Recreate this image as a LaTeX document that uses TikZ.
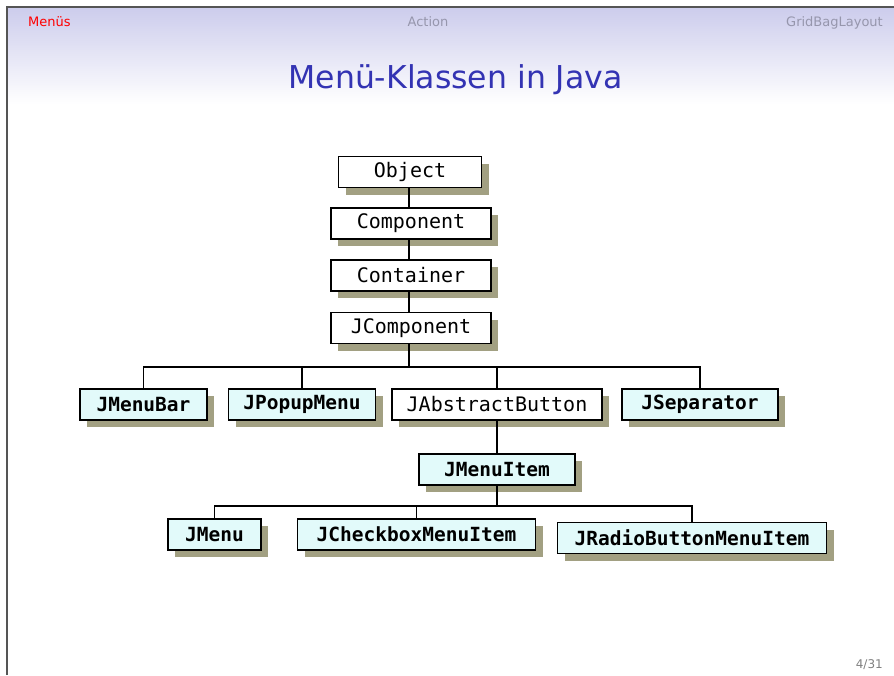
\documentclass[tikz,border=0pt]{standalone}
\usepackage{fontspec}
\setmainfont{DejaVu Sans}
\newfontfamily\monof{DejaVu Sans Mono}
\usetikzlibrary{shadows}

\definecolor{framegray}{RGB}{85,85,85}
\definecolor{headtop}{RGB}{204,204,236}
\definecolor{titleblue}{RGB}{51,51,179}
\definecolor{navgray}{RGB}{150,150,172}
\definecolor{pagegray}{RGB}{128,128,128}
\definecolor{shadowc}{RGB}{162,160,130}
\definecolor{swingcyan}{RGB}{226,250,250}

\tikzset{
  classbox/.style={draw=black, line width=1.6pt, fill=white, inner sep=0pt,
    minimum height=31pt, font=\monof\fontsize{20}{20}\selectfont,
    drop shadow={fill=shadowc, opacity=1, shadow xshift=7pt, shadow yshift=-7pt}},
  swingbox/.style={classbox, fill=swingcyan,
    font=\monof\bfseries\fontsize{19.5}{19.5}\selectfont},
  link/.style={draw=black, line width=1.5pt},
  navtext/.style={font=\fontsize{13}{13}\selectfont, inner sep=0pt}
}

\begin{document}
\begin{tikzpicture}[x=1pt,y=-1pt]
  \useasboundingbox (0,0) rectangle (894,675);
  \fill[white] (0,0) rectangle (894,675);

  % header gradient and frame edges
  \shade[top color=headtop, bottom color=white] (7,7) rectangle (894,104);
  \draw[framegray, line width=2pt] (6.5,675) -- (6.5,6.5) -- (894,6.5);

  % navigation line
  \node[navtext, anchor=base west, text=red] (navmenus) at (28,26) {Menüs};
  \node[navtext, anchor=base, text=navgray] (navaction) at (428,26) {Action};
  \node[navtext, anchor=base east, text=navgray] (navgrid) at (883,26) {GridBagLayout};

  % title
  \node[anchor=base, text=titleblue, font=\fontsize{31.5}{31.5}\selectfont, inner sep=0pt]
    (title) at (455.5,88) {Menü-Klassen in Java};

  % class hierarchy
  \node[classbox, minimum width=143pt] (Object) at (410,172) {Object};
  \node[classbox, minimum width=160pt] (Component) at (411,223.5) {Component};
  \node[classbox, minimum width=160pt] (Container) at (411,275.5) {Container};
  \node[classbox, minimum width=160pt] (JComponent) at (411,328) {JComponent};

  \node[swingbox, minimum width=127pt] (JMenuBar) at (143.5,404.5) {JMenuBar};
  \node[swingbox, minimum width=147pt] (JPopupMenu) at (302,404.5) {JPopupMenu};
  \node[classbox, minimum width=210pt] (JAbstractButton) at (497,404.5) {JAbstractButton};
  \node[swingbox, minimum width=156pt] (JSeparator) at (700,404.5) {JSeparator};

  \node[swingbox, minimum width=156pt] (JMenuItem) at (497,469.5) {JMenuItem};

  \node[swingbox, minimum width=93pt] (JMenu) at (214.5,534.5) {JMenu};
  \node[swingbox, minimum width=238pt] (JCheckboxMenuItem) at (416.5,534.5) {JCheckboxMenuItem};
  \node[swingbox, minimum width=269pt] (JRadioButtonMenuItem) at (692,538) {JRadioButtonMenuItem};

  % connectors
  \coordinate (busA) at (410,367);
  \coordinate (busB) at (497,506);

  \draw[link] (Object.south -| 409,0) -- (Component.north -| 409,0);
  \draw[link] (Component.south -| 409,0) -- (Container.north -| 409,0);
  \draw[link] (Container.south -| 409,0) -- (JComponent.north -| 409,0);
  \draw[link] (JComponent.south -| 409,0) -- (busA -| 409,0);

  \draw[link] (JMenuBar.north) -- (JMenuBar.north |- busA) -- (JSeparator.north |- busA) -- (JSeparator.north);
  \draw[link] (JPopupMenu.north) -- (JPopupMenu.north |- busA);
  \draw[link] (JAbstractButton.north) -- (JAbstractButton.north |- busA);

  \draw[link] (JAbstractButton.south) -- (JMenuItem.north);
  \draw[link] (JMenuItem.south) -- (busB);
  \draw[link] (JMenu.north) -- (JMenu.north |- busB) -- (JRadioButtonMenuItem.north |- busB) -- (JRadioButtonMenuItem.north);
  \draw[link] (JCheckboxMenuItem.north) -- (JCheckboxMenuItem.north |- busB);

  % page number
  \node[anchor=base east, text=pagegray, font=\fontsize{12}{12}\selectfont, inner sep=0pt]
    (pagenum) at (883,668) {4/31};
\end{tikzpicture}
\end{document}
